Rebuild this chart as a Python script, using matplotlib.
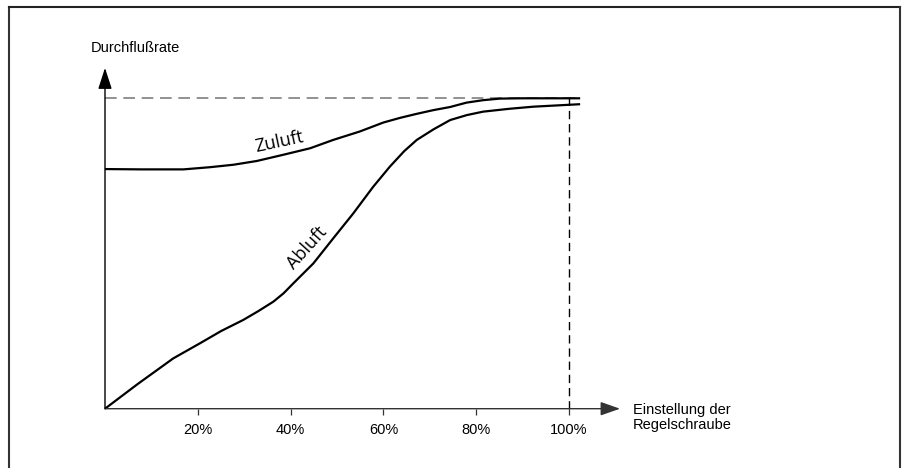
import matplotlib
matplotlib.use("Agg")
import matplotlib.pyplot as plt
from matplotlib.lines import Line2D

# Data (x: setting of the regulating screw in %, y: relative flow, 100 = max)
zuluft_x = [0, 8.0, 16.9, 22.6, 27.7, 32.7, 38.4, 44.2, 49.2, 54.9, 60.0, 63.6,
            67.2, 70.8, 74.4, 77.9, 81.5, 85.1, 90.0, 102.4]
zuluft_y = [77.2, 77.1, 77.1, 77.8, 78.6, 79.8, 81.8, 83.9, 86.6, 89.3, 92.2, 93.7,
            95.0, 96.2, 97.2, 98.6, 99.4, 99.9, 100, 100]

abluft_x = [0, 7.0, 14.7, 20.5, 25.0, 29.8, 33.0, 36.3, 38.5, 40.6, 44.9, 49.2, 53.5,
            57.8, 61.4, 64.5, 67.2, 70.8, 74.4, 78.0, 81.5, 87.0, 92.3, 102.4]
abluft_y = [0, 7.9, 16.2, 21.1, 25.0, 28.6, 31.4, 34.5, 37.2, 40.4, 46.8, 54.9, 62.9,
            71.5, 78.0, 83.0, 86.6, 90.0, 93.0, 94.6, 95.7, 96.6, 97.3, 98.1]

tick_vals = [20, 40, 60, 80, 100]
tick_labels = ["20%", "40%", "60%", "80%", "100%"]
max_level = 100
full_setting = 100

W, H = 902, 468
fig = plt.figure(figsize=(W / 100, H / 100), dpi=100)
ax = fig.add_axes([105 / W, 1 - 408.7 / H, 464 / W, 310.4 / H])
ax.set_xlim(0, 100)
ax.set_ylim(0, 100)
for s in ax.spines.values():
    s.set_visible(False)
ax.set_yticks([])
ax.set_xticks(tick_vals)
ax.set_xticklabels(tick_labels, fontfamily="Liberation Sans", fontsize=10.5)
ax.tick_params(axis="x", direction="out", length=4, width=0.9, color="#333333", pad=6)

# dashed reference lines
ax.plot([0, 102.4], [max_level, max_level], color="#7f7f7f", lw=1.2,
        dashes=(7, 4), clip_on=False)
ax.plot([full_setting, full_setting], [0, max_level + 1.5], color="black", lw=1.0,
        dashes=(6, 3.5), clip_on=False)

# curves
ax.plot(zuluft_x, zuluft_y, color="black", lw=1.6, clip_on=False,
        solid_capstyle="butt", solid_joinstyle="round")
ax.plot(abluft_x, abluft_y, color="black", lw=1.6, clip_on=False,
        solid_capstyle="butt", solid_joinstyle="round")

# axes arrows
ax.annotate("", xy=(111, 0), xytext=(0, 0), annotation_clip=False,
            arrowprops=dict(arrowstyle="-|>,head_length=12,head_width=4.2",
                            mutation_scale=1, color="#333333", lw=1.0,
                            shrinkA=0, shrinkB=0))
ax.annotate("", xy=(0, 109.8), xytext=(0, 0), annotation_clip=False,
            arrowprops=dict(arrowstyle="-|>,head_length=13,head_width=4.2",
                            mutation_scale=1, color="black", lw=1.0,
                            shrinkA=0, shrinkB=0))

# curve labels
ax.text(37.5, 86.0, "Zuluft", rotation=12, ha="center", va="center",
        fontfamily="Open Sans", fontsize=13, rotation_mode="anchor")
ax.text(43.5, 51.8, "Abluft", rotation=48, ha="center", va="center",
        fontfamily="Open Sans", fontsize=13, rotation_mode="anchor")

# axis titles
fig.text(91 / W, 1 - 48 / H, "Durchflußrate", ha="left", va="center",
         fontfamily="Liberation Sans", fontsize=10.5)
fig.text(633 / W, 1 - 417.5 / H, "Einstellung der\nRegelschraube", ha="left",
         va="center", fontfamily="Liberation Sans", fontsize=10.5, linespacing=1.15)

# frame
fig.add_artist(Line2D([9 / W, 9 / W], [0, 1 - 7 / H], color="#333333", lw=1.5,
                      transform=fig.transFigure))
fig.add_artist(Line2D([9 / W, 900 / W], [1 - 7 / H, 1 - 7 / H], color="#222222", lw=1.5,
                      transform=fig.transFigure))
fig.add_artist(Line2D([900 / W, 900 / W], [0, 1 - 7 / H], color="#333333", lw=1.5,
                      transform=fig.transFigure))

fig.savefig("out.png", dpi=100)
